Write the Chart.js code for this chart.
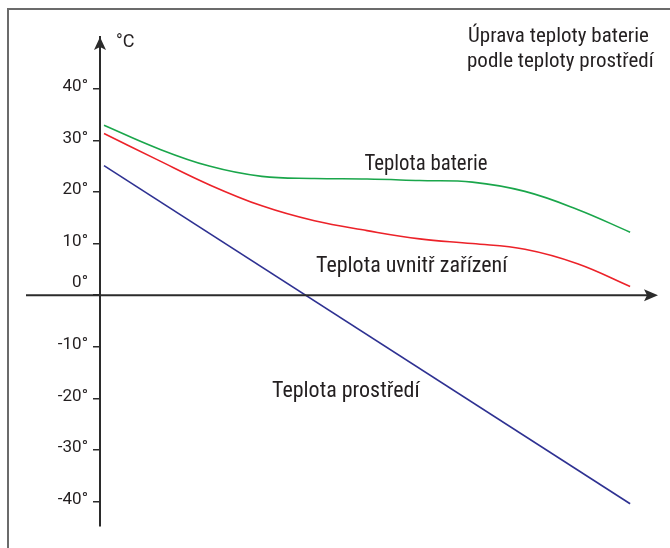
<!DOCTYPE html>
<html>
<head>
<meta charset="utf-8">
<script src="https://cdn.jsdelivr.net/npm/chart.js@4"></script>
<style>
  body { margin: 0; background: #fff; }
  canvas { display: block; }
</style>
</head>
<body>
<canvas id="chart" width="670" height="548"></canvas>
<script>
// Data (x = 0..100 along the time axis)
const xValues = [0, 10, 20, 30, 40, 50, 60, 70, 80, 90, 100];
const batteryTemp = [32.9, 28.5, 25.0, 23.0, 22.6, 22.5, 22.2, 21.9, 20.1, 16.6, 12.2];
const insideTemp = [31.3, 26.3, 21.4, 17.3, 14.4, 12.5, 10.9, 10.0, 8.9, 6.1, 1.7];
const ambientX = [0, 100];
const ambientTemp = [25.1, -40.4];
const yTicks = [40, 30, 20, 10, 0, -10, -20, -30, -40];

const titleLines = ['Úprava teploty baterie', 'podle teploty prostředí'];
const seriesNames = ['Teplota baterie', 'Teplota uvnitř zařízení', 'Teplota prostředí'];

const textColor = '#231f20';
const axisColor = '#2b2b2b';
const baseFont = 'Roboto, "Liberation Sans", Arial, sans-serif';
const narrowFont = '"Liberation Sans Narrow", "Roboto Condensed", Roboto, sans-serif';

function toPoints(xs, ys) {
    return xs.map((x, i) => ({ x: x, y: ys[i] }));
}

// draw text squeezed to a given width (condensed look)
function fitText(ctx, text, x, y, width, align) {
    const w = ctx.measureText(text).width;
    const sx = Math.min(1, width / w);
    ctx.save();
    let left = x;
    if (align === 'right') left = x - width;
    if (align === 'center') left = x - width / 2;
    ctx.translate(left, y);
    ctx.scale(sx, 1);
    ctx.textAlign = 'left';
    ctx.fillText(text, 0, 0);
    ctx.restore();
}

// Axes with arrows, frame, title and line labels
const decorPlugin = {
    id: 'decor',
    beforeDraw(chart) {
        const ctx = chart.ctx;
        ctx.save();
        ctx.fillStyle = '#fff';
        ctx.fillRect(0, 0, chart.width, chart.height);
        // frame (left and top only)
        ctx.strokeStyle = '#6b6b6b';
        ctx.lineWidth = 2;
        ctx.beginPath();
        ctx.moveTo(8, chart.height);
        ctx.lineTo(8, 9);
        ctx.lineTo(chart.width, 9);
        ctx.stroke();
        ctx.restore();
    },
    afterDraw(chart) {
        const ctx = chart.ctx;
        const area = chart.chartArea;
        const y0 = chart.scales.y.getPixelForValue(0);
        const yAxisX = area.left;
        ctx.save();

        // x axis line with arrow
        ctx.strokeStyle = axisColor;
        ctx.fillStyle = axisColor;
        ctx.lineWidth = 2;
        ctx.beginPath();
        ctx.moveTo(26, y0);
        ctx.lineTo(area.right - 8, y0);
        ctx.stroke();
        ctx.beginPath();
        ctx.moveTo(area.right, y0);
        ctx.lineTo(area.right - 14, y0 - 6);
        ctx.lineTo(area.right - 11, y0);
        ctx.lineTo(area.right - 14, y0 + 6);
        ctx.closePath();
        ctx.fill();

        // y axis arrow
        ctx.beginPath();
        ctx.moveTo(yAxisX, area.top);
        ctx.lineTo(yAxisX - 6, area.top + 13);
        ctx.lineTo(yAxisX, area.top + 10);
        ctx.lineTo(yAxisX + 6, area.top + 13);
        ctx.closePath();
        ctx.fill();

        // unit
        ctx.fillStyle = textColor;
        ctx.font = '18px ' + baseFont;
        ctx.textAlign = 'left';
        ctx.textBaseline = 'middle';
        ctx.fillText('°C', yAxisX + 16, area.top + 5);

        // title
        ctx.font = '21px ' + narrowFont;
        ctx.textBaseline = 'alphabetic';
        fitText(ctx, titleLines[0], 663, 42, 195, 'right');
        fitText(ctx, titleLines[1], 663, 67, 196, 'right');

        // line labels
        ctx.font = '22px ' + narrowFont;
        fitText(ctx, seriesNames[0], 426, 170, 123, 'center');
        fitText(ctx, seriesNames[1], 413, 272, 194, 'center');
        fitText(ctx, seriesNames[2], 347, 397, 150, 'center');
        ctx.restore();
    }
};

const ctx = document.getElementById('chart').getContext('2d');
const chart = new Chart(ctx, {
    type: 'line',
    data: {
        datasets: [{
            label: seriesNames[0],
            data: toPoints(xValues, batteryTemp),
            borderColor: '#1aa64b',
            borderWidth: 1.6,
            tension: 0.4
        }, {
            label: seriesNames[1],
            data: toPoints(xValues, insideTemp),
            borderColor: '#ec2229',
            borderWidth: 1.6,
            tension: 0.4
        }, {
            label: seriesNames[2],
            data: toPoints(ambientX, ambientTemp),
            borderColor: '#2e3192',
            borderWidth: 1.6,
            tension: 0
        }]
    },
    options: {
        responsive: false,
        animation: false,
        layout: {
            padding: { left: 8, top: 37, right: 12, bottom: 22 }
        },
        elements: {
            point: { radius: 0, hoverRadius: 0 }
        },
        scales: {
            x: {
                type: 'linear',
                display: false,
                min: -0.76,
                max: 105.3
            },
            y: {
                min: -44.7,
                max: 50,
                afterFit: function(scale) {
                    scale.width = 92;
                },
                afterBuildTicks: function(scale) {
                    scale.ticks = yTicks.map(v => ({ value: v }));
                },
                grid: {
                    drawOnChartArea: false,
                    drawTicks: true,
                    tickLength: 7,
                    color: axisColor,
                    lineWidth: 1.5
                },
                border: {
                    display: true,
                    color: axisColor,
                    width: 2
                },
                ticks: {
                    padding: 5,
                    labelOffset: -2,
                    color: textColor,
                    font: { family: baseFont, size: 17 },
                    callback: function(value) {
                        // 0° sits above the x axis
                        return value === 0 ? ['0°', ''] : value + '°';
                    }
                }
            }
        },
        plugins: {
            legend: { display: false },
            tooltip: { enabled: false }
        }
    },
    plugins: [decorPlugin]
});
</script>
</body>
</html>
